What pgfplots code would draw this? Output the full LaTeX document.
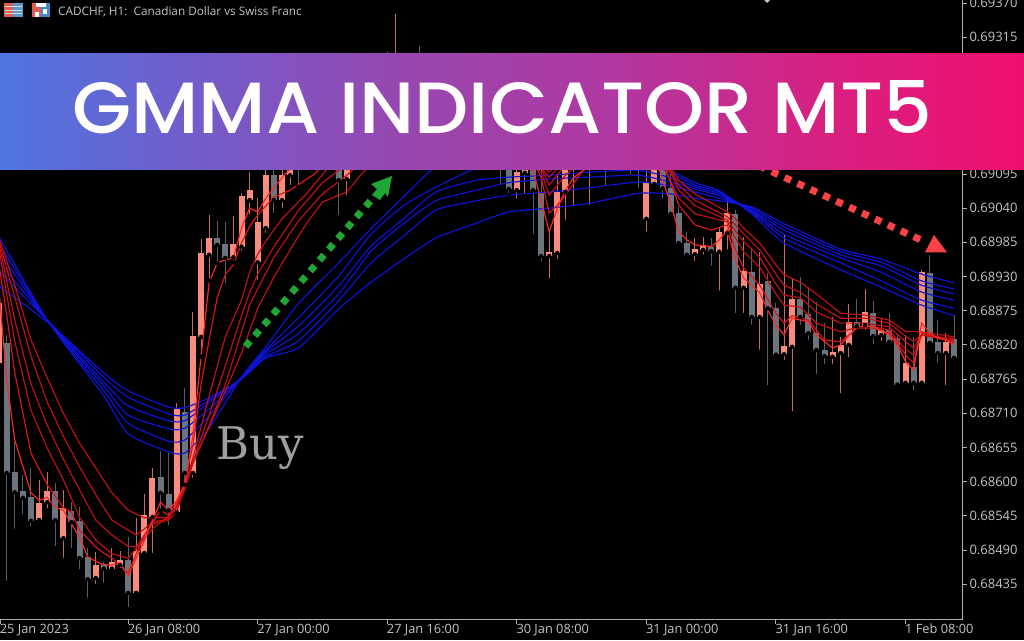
\documentclass[border=0pt]{standalone}
\usepackage{fontspec}
\usepackage{pgfplots}
\usepackage{pgfplotstable}
\pgfplotsset{compat=1.18}
\setmainfont{Open Sans}
\newfontfamily\bannerfont{Poppins Medium}
\newfontfamily\buyfont{DejaVu Serif}
\definecolor{bull}{HTML}{FA8C7E}
\definecolor{bullw}{HTML}{C96A5C}
\definecolor{bear}{HTML}{6C747E}
\definecolor{bearw}{HTML}{5A6068}
\definecolor{axisgrey}{HTML}{B0B0B0}
\definecolor{labgrey}{HTML}{C4C4C4}
\definecolor{bl}{HTML}{0D14DC}
\definecolor{rA}{HTML}{FF2626}
\definecolor{rB}{HTML}{E01414}
\definecolor{rC}{HTML}{C41010}
\definecolor{garrow}{RGB}{31,166,55}
\definecolor{rarrow}{RGB}{250,66,72}
\definecolor{iconr}{RGB}{222,92,82}
\definecolor{iconb}{RGB}{86,156,210}
\definecolor{iconc}{RGB}{60,140,205}
\pgfdeclarehorizontalshading{banner}{100bp}{
 rgb(0bp)=(0.31,0.46,0.88);
 rgb(25bp)=(0.31,0.46,0.88);
 rgb(34.8bp)=(0.45,0.36,0.79);
 rgb(44.5bp)=(0.59,0.28,0.69);
 rgb(54.8bp)=(0.69,0.22,0.63);
 rgb(65bp)=(0.84,0.13,0.51);
 rgb(75bp)=(0.94,0.06,0.43);
 rgb(100bp)=(0.94,0.06,0.43)}

\pgfplotstableread{
k high top bot low
-1 0.69000 0.68887 0.68791 0.68791
4 0.68603 0.68566 0.68538 0.68538
5 0.68616 0.68585 0.68567 0.68554
7 0.68587 0.68558 0.68509 0.68474
11 0.68487 0.68466 0.68445 0.68432
13 0.68493 0.68471 0.68460 0.68455
14 0.68488 0.68474 0.68466 0.68458
16 0.68542 0.68488 0.68421 0.68421
17 0.68580 0.68546 0.68485 0.68482
18 0.68622 0.68606 0.68543 0.68482
21 0.68727 0.68717 0.68551 0.68546
23 0.68873 0.68834 0.68614 0.68603
24 0.68990 0.68968 0.68833 0.68801
25 0.69029 0.68992 0.68965 0.68924
28 0.69027 0.68982 0.68961 0.68953
29 0.69064 0.69060 0.68978 0.68968
30 0.69098 0.69069 0.69053 0.69026
31 0.69056 0.69018 0.68953 0.68921
32 0.69118 0.69093 0.69008 0.68997
34 0.69118 0.69093 0.69053 0.69037
35 0.69134 0.69118 0.69093 0.69074
37 0.69158 0.69142 0.69118 0.69100
39 0.69182 0.69174 0.69142 0.69118
40 0.69190 0.69174 0.69134 0.69109
42 0.69198 0.69166 0.69087 0.69058
43 0.69214 0.69198 0.69158 0.69134
45 0.69238 0.69222 0.69198 0.69174
46 0.69262 0.69238 0.69206 0.69182
47 0.69291 0.69262 0.69230 0.69206
48 0.69352 0.69262 0.69238 0.69198
52 0.69262 0.69230 0.69206 0.69174
55 0.69238 0.69214 0.69190 0.69166
58 0.69214 0.69190 0.69166 0.69134
63 0.69134 0.69098 0.69069 0.69053
64 0.69150 0.69126 0.69097 0.69060
67 0.69005 0.68970 0.68963 0.68924
68 0.69093 0.69066 0.68968 0.68955
69 0.69126 0.69101 0.69066 0.69018
70 0.69166 0.69142 0.69118 0.69040
72 0.69198 0.69174 0.69126 0.69042
75 0.69190 0.69174 0.69134 0.69109
79 0.69118 0.69081 0.69023 0.68999
80 0.69134 0.69109 0.69079 0.69076
85 0.68992 0.68974 0.68966 0.68952
86 0.68994 0.68981 0.68973 0.68962
88 0.69008 0.69002 0.68970 0.68904
89 0.69056 0.69032 0.69000 0.68970
91 0.68994 0.68939 0.68912 0.68868
93 0.68970 0.68918 0.68865 0.68809
96 0.68999 0.68818 0.68805 0.68793
97 0.68928 0.68894 0.68817 0.68710
102 0.68865 0.68809 0.68801 0.68786
103 0.68833 0.68820 0.68807 0.68739
104 0.68886 0.68857 0.68820 0.68797
106 0.68910 0.68873 0.68852 0.68841
108 0.68863 0.68844 0.68836 0.68823
111 0.68836 0.68791 0.68759 0.68752
113 0.68941 0.68937 0.68759 0.68752
116 0.68839 0.68825 0.68807 0.68752
}\bulltable

\pgfplotstableread{
k high top bot low
0 0.68836 0.68823 0.68614 0.68437
1 0.68664 0.68616 0.68583 0.68521
2 0.68611 0.68585 0.68574 0.68545
3 0.68622 0.68575 0.68537 0.68525
6 0.68598 0.68585 0.68538 0.68493
8 0.68567 0.68553 0.68535 0.68490
9 0.68559 0.68537 0.68477 0.68456
10 0.68493 0.68479 0.68443 0.68410
12 0.68471 0.68468 0.68460 0.68434
15 0.68511 0.68474 0.68421 0.68395
19 0.68649 0.68607 0.68582 0.68553
20 0.68646 0.68580 0.68554 0.68527
22 0.68751 0.68712 0.68614 0.68595
26 0.69019 0.68992 0.68981 0.68952
27 0.69018 0.68982 0.68960 0.68916
33 0.69134 0.69093 0.69053 0.69029
36 0.69150 0.69134 0.69105 0.69074
38 0.69174 0.69158 0.69134 0.69109
41 0.69182 0.69166 0.69085 0.69026
44 0.69222 0.69206 0.69174 0.69150
49 0.69278 0.69262 0.69230 0.69198
50 0.69270 0.69238 0.69206 0.69182
51 0.69301 0.69246 0.69214 0.69182
53 0.69246 0.69230 0.69198 0.69166
54 0.69238 0.69214 0.69182 0.69158
56 0.69230 0.69206 0.69174 0.69142
57 0.69214 0.69190 0.69166 0.69134
59 0.69198 0.69182 0.69150 0.69118
60 0.69182 0.69166 0.69134 0.69109
61 0.69166 0.69150 0.69118 0.69074
62 0.69166 0.69134 0.69071 0.69061
65 0.69142 0.69118 0.69069 0.68995
66 0.69101 0.69064 0.68963 0.68952
71 0.69182 0.69166 0.69134 0.69109
73 0.69190 0.69174 0.69134 0.69109
74 0.69198 0.69174 0.69126 0.69072
76 0.69198 0.69174 0.69134 0.69109
77 0.69182 0.69158 0.69126 0.69090
78 0.69174 0.69150 0.69118 0.69069
81 0.69134 0.69109 0.69072 0.69052
82 0.69118 0.69072 0.69031 0.69026
83 0.69042 0.69032 0.68984 0.68981
84 0.69002 0.68984 0.68965 0.68962
87 0.68992 0.68978 0.68971 0.68944
90 0.69037 0.69031 0.68912 0.68868
92 0.68976 0.68937 0.68865 0.68849
94 0.68936 0.68923 0.68879 0.68752
95 0.68887 0.68879 0.68804 0.68804
98 0.68929 0.68894 0.68865 0.68849
99 0.68913 0.68870 0.68839 0.68825
100 0.68889 0.68839 0.68812 0.68770
101 0.68855 0.68812 0.68802 0.68786
105 0.68894 0.68857 0.68850 0.68841
107 0.68891 0.68871 0.68834 0.68818
109 0.68871 0.68844 0.68825 0.68823
110 0.68836 0.68831 0.68756 0.68756
112 0.68833 0.68785 0.68759 0.68744
114 0.68965 0.68936 0.68823 0.68823
115 0.68860 0.68825 0.68807 0.68788
117 0.68868 0.68830 0.68799 0.68799
}\beartable

\pgfplotstableread{
k a b c d e f
-1 0.68995 0.68984 0.68971 0.68955 0.68939 0.68915
5 0.68860 0.68860 0.68860 0.68860 0.68860 0.68857
12 0.68738 0.68746 0.68754 0.68760 0.68768 0.68775
15 0.68677 0.68694 0.68707 0.68722 0.68736 0.68746
20 0.68648 0.68665 0.68685 0.68698 0.68709 0.68720
22 0.68646 0.68667 0.68686 0.68698 0.68707 0.68719
25 0.68686 0.68706 0.68717 0.68727 0.68731 0.68735
29 0.68768 0.68768 0.68767 0.68767 0.68765 0.68765
32 0.68817 0.68812 0.68809 0.68805 0.68801 0.68799
36 0.68886 0.68863 0.68850 0.68838 0.68826 0.68815
41 0.68952 0.68931 0.68915 0.68902 0.68891 0.68878
45 0.69007 0.68998 0.68979 0.68971 0.68952 0.68921
49 0.69058 0.69044 0.69023 0.69015 0.68995 0.68958
53 0.69108 0.69074 0.69066 0.69052 0.69037 0.68992
58 0.69150 0.69105 0.69085 0.69069 0.69052 0.69016
62 0.69166 0.69118 0.69090 0.69081 0.69061 0.69034
67 0.69174 0.69126 0.69093 0.69087 0.69066 0.69040
72 0.69166 0.69126 0.69098 0.69090 0.69073 0.69048
78 0.69134 0.69118 0.69101 0.69093 0.69082 0.69064
82 0.69101 0.69097 0.69089 0.69082 0.69076 0.69063
85 0.69081 0.69077 0.69074 0.69071 0.69066 0.69056
88 0.69068 0.69066 0.69063 0.69060 0.69056 0.69052
92 0.69031 0.69034 0.69036 0.69037 0.69040 0.69042
96 0.68984 0.68992 0.68998 0.69005 0.69010 0.69015
103 0.68941 0.68952 0.68960 0.68965 0.68970 0.68974
108 0.68913 0.68923 0.68937 0.68947 0.68953 0.68958
113 0.68884 0.68892 0.68905 0.68916 0.68923 0.68934
117 0.68867 0.68879 0.68892 0.68902 0.68910 0.68920
}\bluetable

\begin{document}
\begin{tikzpicture}
\useasboundingbox (0,0) rectangle (1024pt,640pt);
\fill[black] (0,0) rectangle (1024pt,640pt);
\begin{axis}[
 at={(0pt,20.5pt)}, anchor=south west,
 width=962.5pt, height=619.5pt, scale only axis,
 xmin=-0.827, xmax=118.04, ymin=0.683782, ymax=0.69375,
 axis x line*=bottom, axis y line*=right,
 axis line style={axisgrey, line width=1.4pt, -},
 tick style={axisgrey, line width=1pt},
 tick align=outside, major tick length=4.5pt,
 xtick={-0.8,15,31,47,63,79,95,111},
 xticklabels={25 Jan 2023,26 Jan 08:00,27 Jan 00:00,27 Jan 16:00,30 Jan 08:00,31 Jan 00:00,31 Jan 16:00,1 Feb 08:00},
 xticklabel style={anchor=north west, xshift=-1.5pt, yshift=1pt, font=\fontsize{12.8}{14}\selectfont, text=labgrey, inner sep=1pt},
 ytick={0.68435,0.6849,0.68545,0.686,0.68655,0.6871,0.68765,0.6882,0.68875,0.6893,0.68985,0.6904,0.69095,0.6915,0.69205,0.6926,0.69315,0.6937},
 yticklabel style={/pgf/number format/fixed, /pgf/number format/fixed zerofill, /pgf/number format/precision=5, /pgf/number format/assume math mode=true, font=\fontsize{13}{14}\selectfont, text=labgrey, xshift=-1pt},
 scaled y ticks=false,
 clip=true,
]
% wicks
\addplot[forget plot, only marks, mark=none, error bars/.cd, y dir=plus, y explicit, error mark=none, error bar style={bullw, line width=1pt}]
 table[x=k, y=low, y error expr=\thisrow{high}-\thisrow{low}] {\bulltable};
\addplot[forget plot, only marks, mark=none, error bars/.cd, y dir=plus, y explicit, error mark=none, error bar style={bearw, line width=1pt}]
 table[x=k, y=low, y error expr=\thisrow{high}-\thisrow{low}] {\beartable};
% bodies
\addplot[forget plot, only marks, mark=none, error bars/.cd, y dir=plus, y explicit, error mark=none, error bar style={bull, line width=6pt}]
 table[x=k, y=bot, y error expr=\thisrow{top}-\thisrow{bot}] {\bulltable};
\addplot[forget plot, only marks, mark=none, error bars/.cd, y dir=plus, y explicit, error mark=none, error bar style={bear, line width=6pt}]
 table[x=k, y=bot, y error expr=\thisrow{top}-\thisrow{bot}] {\beartable};
% blue
\addplot[bl, line width=1.15pt, smooth, tension=0.35] table[x=k,y=f] {\bluetable};
\addplot[bl, line width=1.15pt, smooth, tension=0.35] table[x=k,y=e] {\bluetable};
\addplot[bl, line width=1.15pt, smooth, tension=0.35] table[x=k,y=d] {\bluetable};
\addplot[bl, line width=1.15pt, smooth, tension=0.35] table[x=k,y=c] {\bluetable};
\addplot[bl, line width=1.15pt, smooth, tension=0.35] table[x=k,y=b] {\bluetable};
\addplot[bl, line width=1.15pt, smooth, tension=0.35] table[x=k,y=a] {\bluetable};
% red, slowest first
\addplot[rC, line width=1.15pt] coordinates {(-1,0.68994)(1,0.68916)(3,0.68828)(5,0.68767)(7,0.68710)(9,0.68662)(11,0.68622)(13,0.68582)(15,0.68554)(17,0.68542)(20,0.68542)(21,0.68558)(22,0.68587)(23,0.68630)(25,0.68688)(27,0.68746)(29,0.68807)(31,0.68879)(33,0.68929)(35,0.68973)(37,0.69015)(39,0.69050)(42,0.69066)(44,0.69098)(49,0.69142)(56,0.69174)(62,0.69158)(67,0.69098)(69,0.69121)(72,0.69137)(78,0.69110)(82,0.69105)(83,0.69085)(85,0.69063)(89,0.69034)(90,0.69023)(91,0.69008)(93,0.68984)(95,0.68949)(96,0.68933)(98,0.68921)(100,0.68902)(103,0.68871)(106,0.68868)(109,0.68860)(111,0.68842)(113,0.68841)(117,0.68833)};
\addplot[rC, line width=1.15pt] coordinates {(-1,0.68989)(1,0.68897)(3,0.68802)(5,0.68728)(7,0.68673)(9,0.68624)(11,0.68579)(13,0.68538)(15,0.68522)(16,0.68514)(17,0.68524)(18,0.68535)(20,0.68540)(21,0.68562)(23,0.68630)(25,0.68690)(27,0.68756)(29,0.68841)(30,0.68884)(31,0.68910)(33,0.68961)(36,0.69019)(39,0.69063)(42,0.69093)(47,0.69150)(53,0.69180)(59,0.69171)(64,0.69134)(67,0.69090)(69,0.69118)(72,0.69137)(78,0.69118)(82,0.69101)(83,0.69077)(85,0.69053)(89,0.69026)(90,0.69013)(91,0.68999)(93,0.68973)(95,0.68934)(96,0.68916)(98,0.68905)(100,0.68886)(103,0.68863)(106,0.68863)(109,0.68855)(111,0.68834)(112,0.68826)(113,0.68836)(117,0.68830)};
\addplot[rC, line width=1.15pt] coordinates {(-1,0.68986)(1,0.68860)(3,0.68757)(5,0.68691)(7,0.68636)(9,0.68587)(11,0.68538)(13,0.68514)(15,0.68496)(16,0.68495)(17,0.68514)(18,0.68532)(20,0.68538)(21,0.68551)(23,0.68632)(25,0.68707)(27,0.68786)(29,0.68867)(30,0.68904)(31,0.68934)(33,0.68978)(36,0.69036)(39,0.69081)(41,0.69101)(46,0.69166)(52,0.69190)(58,0.69182)(63,0.69145)(66,0.69105)(67,0.69077)(69,0.69110)(72,0.69134)(78,0.69126)(82,0.69098)(83,0.69069)(85,0.69044)(89,0.69021)(90,0.69003)(91,0.68987)(93,0.68961)(95,0.68918)(96,0.68900)(98,0.68896)(100,0.68873)(103,0.68855)(106,0.68855)(109,0.68849)(111,0.68825)(112,0.68815)(113,0.68836)(117,0.68828)};
\addplot[rC, line width=1.15pt] coordinates {(-1,0.68978)(1,0.68825)(3,0.68715)(5,0.68654)(7,0.68603)(9,0.68543)(11,0.68506)(13,0.68484)(15,0.68477)(18,0.68524)(20,0.68545)(21,0.68559)(22,0.68595)(23,0.68638)(25,0.68738)(27,0.68833)(29,0.68892)(30,0.68937)(31,0.68966)(32,0.68987)(34,0.69023)(37,0.69063)(40,0.69110)(45,0.69166)(51,0.69198)(57,0.69185)(62,0.69150)(65,0.69113)(66,0.69098)(67,0.69061)(69,0.69093)(72,0.69126)(78,0.69134)(81,0.69110)(83,0.69056)(85,0.69031)(89,0.69018)(90,0.68992)(91,0.68970)(93,0.68945)(95,0.68902)(96,0.68884)(98,0.68881)(100,0.68855)(103,0.68841)(106,0.68852)(109,0.68844)(111,0.68813)(112,0.68804)(113,0.68836)(117,0.68826)};
\addplot[rB, line width=1.15pt] coordinates {(-1,0.68953)(0,0.68868)(1,0.68775)(3,0.68646)(5,0.68595)(7,0.68558)(8,0.68551)(9,0.68522)(11,0.68495)(12,0.68485)(13,0.68477)(15,0.68453)(16,0.68484)(17,0.68513)(19,0.68554)(20,0.68546)(21,0.68567)(22,0.68598)(23,0.68659)(24,0.68756)(25,0.68828)(26,0.68896)(27,0.68933)(28,0.68949)(29,0.68984)(30,0.69011)(31,0.69029)(33,0.69058)(35,0.69069)(38,0.69095)(42,0.69145)(47,0.69182)(53,0.69206)(58,0.69193)(62,0.69150)(65,0.69118)(66,0.69089)(67,0.69032)(68,0.69045)(69,0.69061)(71,0.69098)(74,0.69134)(78,0.69142)(81,0.69118)(83,0.69045)(85,0.69013)(87,0.69005)(89,0.69013)(90,0.68973)(91,0.68944)(93,0.68916)(95,0.68871)(96,0.68855)(97,0.68867)(99,0.68860)(101,0.68828)(103,0.68825)(105,0.68847)(107,0.68847)(109,0.68839)(110,0.68823)(111,0.68804)(112,0.68791)(113,0.68839)(115,0.68833)(117,0.68823)};
\addplot[rA, line width=1.15pt] coordinates {(-1,0.68916)(0,0.68764)(1,0.68667)(3,0.68582)(4,0.68570)(5,0.68575)(6,0.68559)(7,0.68554)(8,0.68532)(9,0.68511)(10,0.68479)(11,0.68472)(12,0.68466)(13,0.68466)(14,0.68469)(15,0.68448)(16,0.68477)(17,0.68505)(18,0.68538)(19,0.68567)(20,0.68554)(21,0.68570)(22,0.68595)(23,0.68675)(24,0.68801)(25,0.68920)(26,0.68952)(27,0.68957)(28,0.68960)(29,0.69008)(30,0.69040)(31,0.69034)(32,0.69056)(34,0.69089)(36,0.69118)(39,0.69158)(43,0.69190)(48,0.69222)(53,0.69230)(58,0.69206)(62,0.69158)(64,0.69134)(65,0.69101)(66,0.69053)(67,0.69002)(68,0.69040)(69,0.69069)(70,0.69089)(72,0.69109)(75,0.69142)(78,0.69150)(80,0.69126)(81,0.69085)(82,0.69048)(83,0.69002)(84,0.68989)(85,0.68981)(87,0.68978)(88,0.68989)(89,0.69005)(90,0.68957)(91,0.68928)(93,0.68904)(94,0.68876)(95,0.68852)(96,0.68836)(97,0.68863)(99,0.68857)(100,0.68836)(102,0.68815)(103,0.68820)(105,0.68849)(107,0.68850)(109,0.68836)(110,0.68820)(111,0.68793)(112,0.68780)(113,0.68855)(114,0.68839)(115,0.68831)(116,0.68828)(117,0.68820)};
\end{axis}
\begin{scope}[x=1pt,y=-1pt,yshift=640pt]
 % Buy
 \node[anchor=base west, inner sep=0pt, text=black!38!white, font=\buyfont\fontsize{45}{50}\selectfont] at (216,459) {Buy};
 % green arrow
 \draw[draw=garrow, line width=7pt, dash pattern=on 7pt off 7.2pt] (245.5,346.5) -- (372,199);
 \fill[garrow] (392,176) -- (371,184) -- (377,189) -- (372,195) -- (380,200) -- (385,193) -- (388,197) -- cycle;
 % red arrow
 \draw[draw=rarrow, line width=7pt, dash pattern=on 7pt off 7.2pt] (733,153.8) -- (921,240);
 \fill[rarrow] (934,235) -- (947,252.3) -- (925,252.3) -- cycle;
 % diamond at top
 \fill[labgrey] (764,0) -- (770,0) -- (767,3) -- cycle;
 % banner
 \shade[shading=banner] (0,54) rectangle (1024,169.5);
 \node[anchor=base west, inner sep=0pt, text=white] at (72,134) {\resizebox{860pt}{53pt}{\bannerfont\fontsize{73}{80}\selectfont GMMA INDICATOR MT5}};
 % header
 \fill[iconr] (4,3) rectangle (13,17);
 \fill[iconb] (13,3) rectangle (23,17);
 \foreach \yy in {6.5,10,13.5} {\draw[white!85!black, line width=0.8pt] (5,\yy) -- (22,\yy);}
 \fill[iconr] (32,3) rectangle (41,17);
 \fill[iconc] (41,3) rectangle (50,17);
 \fill[white] (36,3) rectangle (46,7);
 \fill[white] (35,12) rectangle (39,17);
 \fill[white] (43,9) rectangle (47,14);
 \node[anchor=base west, inner sep=0pt, text=labgrey, font=\fontsize{11.75}{14}\selectfont] at (58,15.5) {CADCHF, H1:\ \ Canadian Dollar vs Swiss Franc};
\end{scope}
\end{tikzpicture}
\end{document}
